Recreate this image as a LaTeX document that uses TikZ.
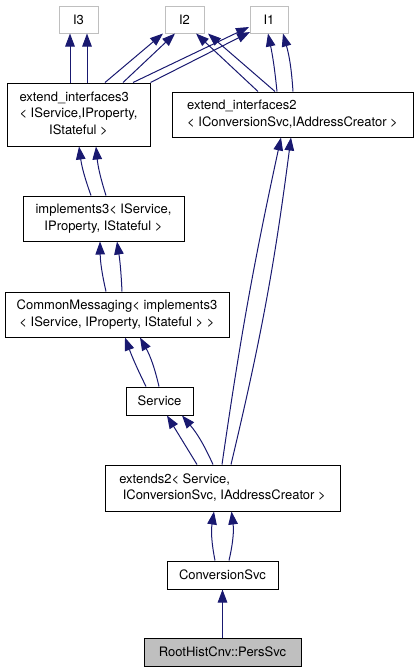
\documentclass[tikz,border=0pt]{standalone}
\usepackage{fontspec}
\setmainfont{TeX Gyre Heros}
\usetikzlibrary{arrows.meta}
\definecolor{edgeblue}{HTML}{191970}
\definecolor{ifgray}{HTML}{BFBFBF}
\begin{document}
\begin{tikzpicture}[x=1pt,y=1pt,
  box/.style={draw=black, line width=1pt, rectangle, inner sep=0pt, font=\fontsize{13}{16.5}\selectfont},
  ibox/.style={box, draw=ifgray},
  edge/.style={draw=edgeblue, line width=1pt, -{Triangle[length=13pt,width=9.5pt]}},
]
\useasboundingbox (0,0) rectangle (416,-672);
% interface nodes
\node[ibox, minimum width=39pt, minimum height=27pt] (I3) at (78.5,-19.5) {I3};
\node[ibox, minimum width=39pt, minimum height=27pt] (I2) at (184.5,-19.5) {I2};
\node[ibox, minimum width=38pt, minimum height=27pt] (I1) at (269,-19.5) {I1};
% classes
\node[box, minimum width=143pt, minimum height=63pt] (ext3) at (78.5,-114.5)
  {\begin{tabular}{@{}l@{}}extend\_interfaces3\\< IService,IProperty,\\\multicolumn{1}{@{}c@{}}{IStateful >}\end{tabular}};
\node[box, minimum width=241pt, minimum height=45pt] (ext2) at (292.5,-114.5)
  {\begin{tabular}{@{}l@{}}extend\_interfaces2\\< IConversionSvc,IAddressCreator >\end{tabular}};
\node[box, minimum width=161pt, minimum height=45pt, align=center] (impl3) at (103.5,-218.5)
  {implements3< IService,\\IProperty, IStateful >};
\node[box, minimum width=224pt, minimum height=45pt, align=center] (CM) at (117,-314.5)
  {CommonMessaging< implements3\\< IService, IProperty, IStateful > >};
\node[box, minimum width=67pt, minimum height=28pt] (Service) at (159.5,-401) {Service};
\node[box, minimum width=235pt, minimum height=46pt] (extends2) at (222.5,-488)
  {\begin{tabular}{@{}l@{}}extends2< Service,\\\hspace*{3.5pt}IConversionSvc, IAddressCreator >\end{tabular}};
\node[box, minimum width=111pt, minimum height=28pt] (ConvSvc) at (222.5,-575) {ConversionSvc};
\node[box, fill=ifgray, minimum width=157pt, minimum height=28pt] (PersSvc) at (222.5,-652) {RootHistCnv::PersSvc};
% edges
\draw[edge] ([xshift=-8.5pt]ext3.north) -- ([xshift=-8.5pt]I3.south);
\draw[edge] ([xshift=8.5pt]ext3.north) -- ([xshift=8.5pt]I3.south);
\draw[edge] ([xshift=26.5pt]ext3.north) -- ([xshift=-21.5pt]I2.south);
\draw[edge] ([xshift=44.5pt]ext3.north) -- ([xshift=-9.5pt]I2.south);
\draw[edge] ([xshift=54.5pt]ext3.north) -- ([shift={(-20pt,-7.5pt)}]I1.center);
\draw[edge] (ext3.north east) -- ([shift={(-19pt,-12.5pt)}]I1.center);
\draw[edge] ([xshift=-34.5pt]ext2.north) -- ([xshift=11.5pt]I2.south);
\draw[edge] ([xshift=-17.5pt]ext2.north) -- ([xshift=23.5pt]I2.south);
\draw[edge] ([xshift=-15.5pt]ext2.north) to[bend right=3] ([xshift=-1pt]I1.south);
\draw[edge] ([xshift=0.5pt]ext2.north) to[bend right=6] ([xshift=14pt]I1.south);
\draw[edge] ([xshift=-12.5pt]impl3.north) to[bend left=6] ([xshift=0.5pt]ext3.south);
\draw[edge] ([xshift=2.5pt]impl3.north) to[bend left=6] ([xshift=17.5pt]ext3.south);
\draw[edge] ([xshift=-11pt]CM.north) to[bend left=6] ([xshift=-3.5pt]impl3.south);
\draw[edge] ([xshift=5pt]CM.north) to[bend right=3] ([xshift=13.5pt]impl3.south);
\draw[edge] ([xshift=-13.5pt]Service.north) to[bend left=3] ([xshift=8pt]CM.south);
\draw[edge] ([xshift=-0.5pt]Service.north) to[bend right=8] ([xshift=23pt]CM.south);
\draw[edge] ([xshift=-25.5pt]extends2.north) -- ([xshift=7.5pt]Service.south);
\draw[edge] ([xshift=-9.5pt]extends2.north) to[bend right=8] ([xshift=22.5pt]Service.south);
\draw[edge] ([xshift=-0.5pt]extends2.north) to[bend left=2] ([xshift=-11.5pt]ext2.south);
\draw[edge] ([xshift=8.5pt]extends2.north) to[bend right=3] ([xshift=-1.5pt]ext2.south);
\draw[edge] ([xshift=-7.5pt]ConvSvc.north) to[bend left=10] ([xshift=-8.5pt]extends2.south);
\draw[edge] ([xshift=6.5pt]ConvSvc.north) to[bend right=10] ([xshift=9pt]extends2.south);
\draw[edge] (PersSvc.north) -- (ConvSvc.south);
\end{tikzpicture}
\end{document}
